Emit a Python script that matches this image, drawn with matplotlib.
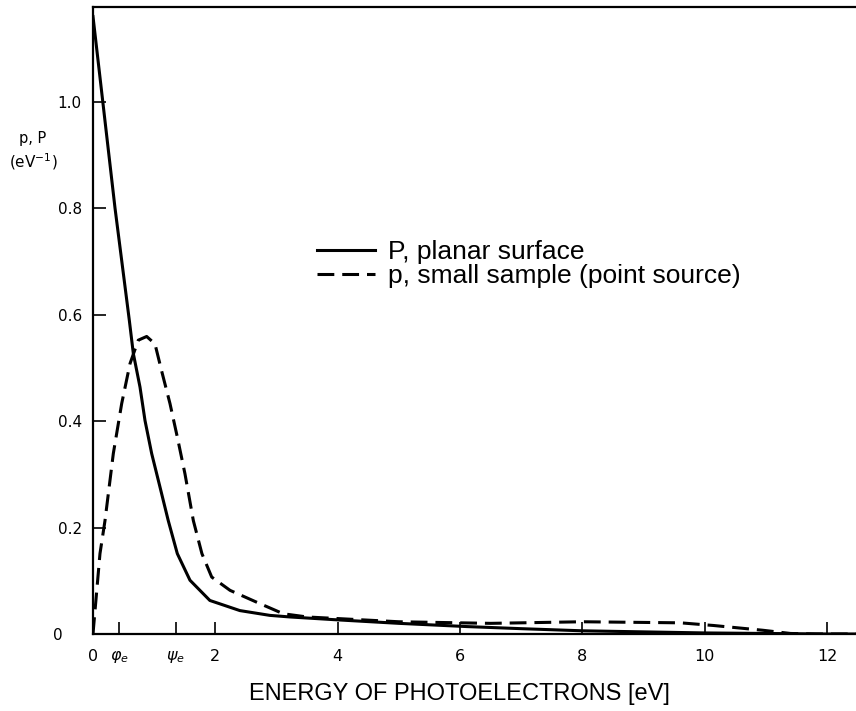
import matplotlib
matplotlib.use("Agg")
import matplotlib.pyplot as plt

# planar surface, P
planar_e = [0.0, 0.16, 0.36, 0.594, 0.659, 0.768, 0.85, 0.959, 1.095, 1.23, 1.378, 1.585,
            1.91, 2.40, 2.89, 3.22, 3.93, 5.0, 6.1, 7.0, 8.0, 9.0, 10.0, 11.0, 12.0, 12.47]
planar_p = [1.16, 1.0, 0.8, 0.589, 0.527, 0.464, 0.401, 0.339, 0.276, 0.213, 0.151, 0.101,
            0.063, 0.044, 0.035, 0.032, 0.027, 0.020, 0.014, 0.010, 0.006, 0.004, 0.002, 0.001, 0.0, 0.0]

# small sample (point source), p
point_e = [0.0, 0.005, 0.114, 0.196, 0.332, 0.469, 0.605, 0.74, 0.877, 1.013, 1.12, 1.258,
           1.378, 1.503, 1.64, 1.78, 1.94, 2.24, 2.67, 3.11, 3.5, 4.0, 5.0, 6.5, 8.0, 9.6,
           10.14, 10.95, 11.4, 11.8, 12.47]
point_p = [0.0, 0.007, 0.151, 0.213, 0.339, 0.433, 0.508, 0.552, 0.559, 0.545, 0.495, 0.433,
           0.37, 0.301, 0.213, 0.151, 0.107, 0.082, 0.060, 0.038, 0.032, 0.029, 0.023, 0.020, 0.023, 0.021,
           0.016, 0.007, 0.001, 0.0, 0.0]

xticks = [0, 0.43, 1.35, 2, 4, 6, 8, 10, 12]
xlabels = ['0', r'$\varphi_e$', r'$\psi_e$', '2', '4', '6', '8', '10', '12']
yticks = [0, 0.2, 0.4, 0.6, 0.8, 1.0]
ylabels = ['0    ', '0.2', '0.4', '0.6', '0.8', '1.0']

plt.rcParams['mathtext.fontset'] = 'dejavusans'

fig = plt.figure(figsize=(8.56, 7.11), dpi=100)
ax = fig.add_axes([93 / 856, 77 / 711, 763 / 856, 627 / 711])

ax.plot(planar_e, planar_p, color='black', lw=2.2, label='P, planar surface',
        solid_joinstyle='round')
ax.plot(point_e, point_p, color='black', lw=2.2, linestyle=(0, (5.5, 2.6)),
        label='p, small sample (point source)')

ax.set_xlim(0, 12.47)
ax.set_ylim(0, 1.178)
ax.spines['right'].set_visible(False)
for s in ['left', 'bottom', 'top']:
    ax.spines[s].set_linewidth(1.6)

ax.set_xticks(xticks)
ax.set_xticklabels(xlabels)
ax.set_yticks(yticks)
ax.set_yticklabels(ylabels)
ax.tick_params(direction='in', length=9, width=1.2, labelsize=11.5, colors='black')
ax.tick_params(axis='x', pad=11)
ax.tick_params(axis='y', pad=8, labelsize=11)

ax.set_xlabel('ENERGY OF PHOTOELECTRONS [eV]', fontsize=17, family='Liberation Sans')
ax.xaxis.set_label_coords((459 - 93) / 763, -0.078)

fig.text(33 / 856, 1 - 138 / 711, 'p, P', ha='center', va='center', fontsize=10.5)
fig.text(33 / 856, 1 - 162 / 711, r'(eV$^{-1}$)', ha='center', va='center', fontsize=11)

leg = ax.legend(loc='center left', bbox_to_anchor=(0.262, 0.59), frameon=False,
                handlelength=2.2, handletextpad=0.5, labelspacing=0.0,
                prop={'family': 'Liberation Sans', 'size': 19})

fig.savefig('out.png', dpi=100)
